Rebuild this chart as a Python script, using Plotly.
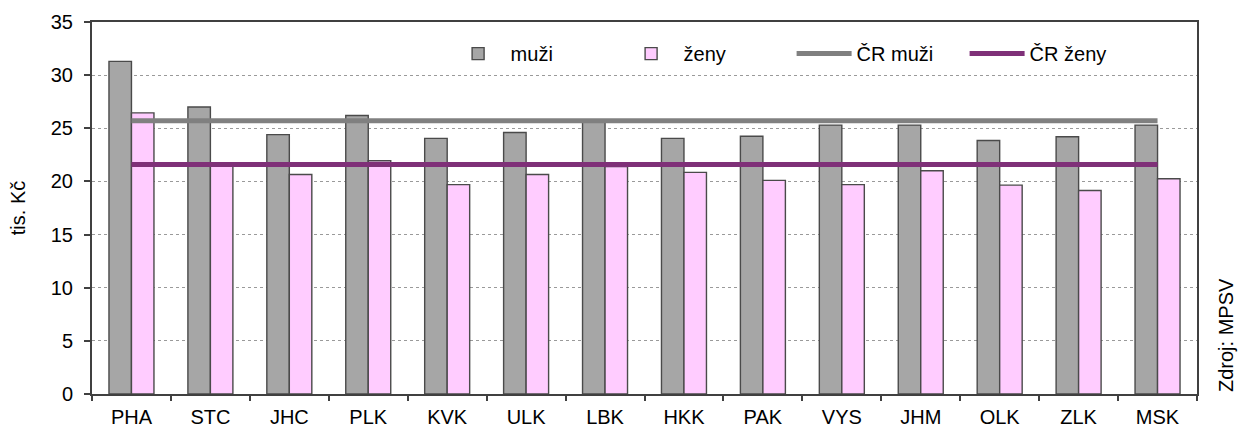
import plotly.graph_objects as go

kraje = ["PHA", "STC", "JHC", "PLK", "KVK", "ULK", "LBK", "HKK", "PAK", "VYS", "JHM", "OLK", "ZLK", "MSK"]
muzi = [31.3, 27.0, 24.4, 26.2, 24.05, 24.6, 25.8, 24.05, 24.25, 25.3, 25.3, 23.85, 24.2, 25.3]
zeny = [26.45, 21.5, 20.65, 21.95, 19.7, 20.65, 21.4, 20.85, 20.1, 19.7, 21.0, 19.65, 19.15, 20.25]
cr_muzi = 25.7
cr_zeny = 21.6
yticks = [0, 5, 10, 15, 20, 25, 30, 35]

fig = go.Figure()
fig.add_trace(go.Bar(x=kraje, y=muzi, name="muži",
                     marker=dict(color="#A6A6A6", line=dict(color="#4A4A4A", width=1.4))))
fig.add_trace(go.Bar(x=kraje, y=zeny, name="ženy",
                     marker=dict(color="#FFCCFF", line=dict(color="#4A4A4A", width=1.4))))
fig.add_trace(go.Scatter(x=kraje, y=[cr_muzi] * len(kraje), name="ČR muži", mode="lines",
                         line=dict(color="#808080", width=5)))
fig.add_trace(go.Scatter(x=kraje, y=[cr_zeny] * len(kraje), name="ČR ženy", mode="lines",
                         line=dict(color="#7F3078", width=5)))

fig.update_layout(
    width=1239, height=430,
    margin=dict(l=92, r=42, t=22, b=36, autoexpand=False),
    paper_bgcolor="white", plot_bgcolor="white",
    font=dict(family="Liberation Sans, Arial", size=20, color="black"),
    barmode="group", bargap=0.43, bargroupgap=0,
    showlegend=True,
    legend=dict(orientation="h", x=0.32, y=0.915, xanchor="left", yanchor="middle",
                bgcolor="rgba(0,0,0,0)", font=dict(size=20), itemwidth=55,
                entrywidth=103, entrywidthmode="pixels",
                traceorder="normal", tracegroupgap=0),
    xaxis=dict(showline=True, linecolor="#404040", linewidth=2, mirror=True,
               ticks="outside", tickson="boundaries", ticklen=5, tickcolor="#404040",
               tickwidth=2, showgrid=False, tickfont=dict(size=20),
               automargin=False, ticklabelstandoff=4),
    yaxis=dict(range=[0, 35], tickvals=yticks, showline=True, linecolor="#404040",
               linewidth=2, mirror=True, ticks="outside", ticklen=6, tickcolor="#404040",
               tickwidth=2, showgrid=True, gridcolor="#9A9A9A", griddash="dot", gridwidth=1,
               tickfont=dict(size=20), automargin=False, ticklabelstandoff=7,
               title=dict(text="tis. Kč", font=dict(size=20), standoff=20)),
    annotations=[dict(text="Zdroj: MPSV", textangle=-90, xref="paper", yref="paper",
                      x=1.0, xshift=29, y=0.0, yanchor="bottom", xanchor="center",
                      showarrow=False, font=dict(size=20))],
)

fig.write_html("out.html", config={"displayModeBar": False},
               post_script="document.body.style.margin='0';document.body.style.overflow='hidden';")
